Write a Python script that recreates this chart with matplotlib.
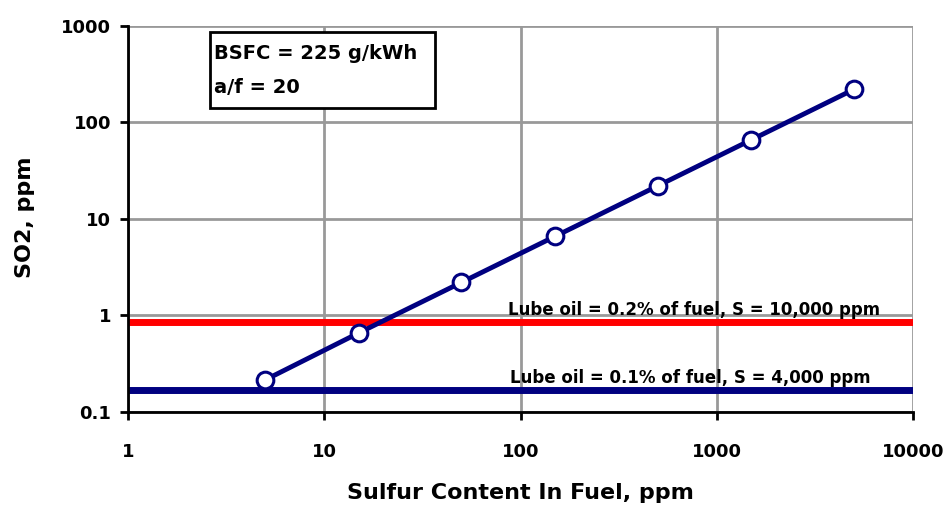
import matplotlib
matplotlib.use("Agg")
import matplotlib.pyplot as plt
from matplotlib import font_manager
from matplotlib.patches import Rectangle
from matplotlib.ticker import FixedLocator, FixedFormatter, NullLocator

# data
sulfur_ppm = [5, 15, 50, 150, 500, 1500, 5000]
so2_ppm = [0.215, 0.66, 2.2, 6.6, 22, 66, 220]
lube_02 = 0.857  # lube oil 0.2% of fuel, S = 10,000 ppm
lube_01 = 0.169  # lube oil 0.1% of fuel, S = 4,000 ppm
x_ticks = [1, 10, 100, 1000, 10000]
x_labels = ["1", "10", "100", "1000", "10000"]
y_ticks = [0.1, 1, 10, 100, 1000]
y_labels = ["0.1", "1", "10", "100", "1000"]

plt.rcParams['font.family'] = ['DejaVu Sans']
plt.rcParams['font.weight'] = 'bold'

# narrow font for the annotations, if it is there
try:
    font_manager.findfont(font_manager.FontProperties(family='Liberation Sans Narrow',
                                                      weight='bold'),
                          fallback_to_default=False)
    note_font = ['Liberation Sans Narrow', 'DejaVu Sans']
    box_size, lube_size = 19, 18
except Exception:
    note_font = ['DejaVu Sans']
    box_size, lube_size = 14, 12

fig = plt.figure(figsize=(9.52, 5.08), dpi=100)
ax = fig.add_axes([0.1345, 0.189, 0.8245, 0.760])

ax.set_xscale('log')
ax.set_yscale('log')
ax.set_xlim(1, 10000)
ax.set_ylim(0.1, 1000)

ax.grid(True, which='major', color='#999999', linewidth=2, zorder=0)
ax.set_axisbelow(True)

ax.axhline(lube_02, color='#ff0000', linewidth=5, zorder=2)
ax.axhline(lube_01, color='#000080', linewidth=5, zorder=2)

ax.plot(sulfur_ppm, so2_ppm, color='#000080', linewidth=3.5,
        marker='o', markersize=12, markerfacecolor='white',
        markeredgecolor='#000080', markeredgewidth=2.2, zorder=3)

ax.annotate("Lube oil = 0.2% of fuel, S = 10,000 ppm", xy=(86, lube_02),
            xytext=(0, 5), textcoords='offset points', fontsize=lube_size,
            family=note_font, fontweight='bold', va='baseline', ha='left')
ax.annotate("Lube oil = 0.1% of fuel, S = 4,000 ppm", xy=(88, lube_01),
            xytext=(0, 5), textcoords='offset points', fontsize=lube_size,
            family=note_font, fontweight='bold', va='baseline', ha='left')

ax.add_patch(Rectangle((0.1045, 0.788), 0.2865, 0.196, transform=ax.transAxes,
                       facecolor='white', edgecolor='black', linewidth=2,
                       zorder=4, clip_on=False))
ax.text(0.109, 0.9145, "BSFC = 225 g/kWh", transform=ax.transAxes,
        fontsize=box_size, family=note_font, fontweight='bold',
        va='baseline', ha='left', zorder=5)
ax.text(0.109, 0.826, "a/f = 20", transform=ax.transAxes,
        fontsize=box_size, family=note_font, fontweight='bold',
        va='baseline', ha='left', zorder=5)

ax.xaxis.set_major_locator(FixedLocator(x_ticks))
ax.xaxis.set_major_formatter(FixedFormatter(x_labels))
ax.yaxis.set_major_locator(FixedLocator(y_ticks))
ax.yaxis.set_major_formatter(FixedFormatter(y_labels))
ax.xaxis.set_minor_locator(NullLocator())
ax.yaxis.set_minor_locator(NullLocator())

for side in ['top', 'right']:
    ax.spines[side].set_visible(False)
for side in ['left', 'bottom']:
    ax.spines[side].set_linewidth(2)

ax.tick_params(axis='both', direction='out', length=6, width=2, labelsize=13)
ax.tick_params(axis='x', pad=16)
ax.tick_params(axis='y', pad=6)
for lbl in ax.get_xticklabels() + ax.get_yticklabels():
    lbl.set_fontweight('bold')

ax.set_xlabel("Sulfur Content In Fuel, ppm", fontsize=16, fontweight='bold')
ax.set_ylabel("SO2, ppm", fontsize=16, fontweight='bold')
ax.xaxis.set_label_coords(0.5, -0.21)
ax.xaxis.label.set_va('center')
ax.yaxis.set_label_coords(-0.131, 0.504)
ax.yaxis.label.set_va('center')

fig.savefig("out.png", dpi=100)
